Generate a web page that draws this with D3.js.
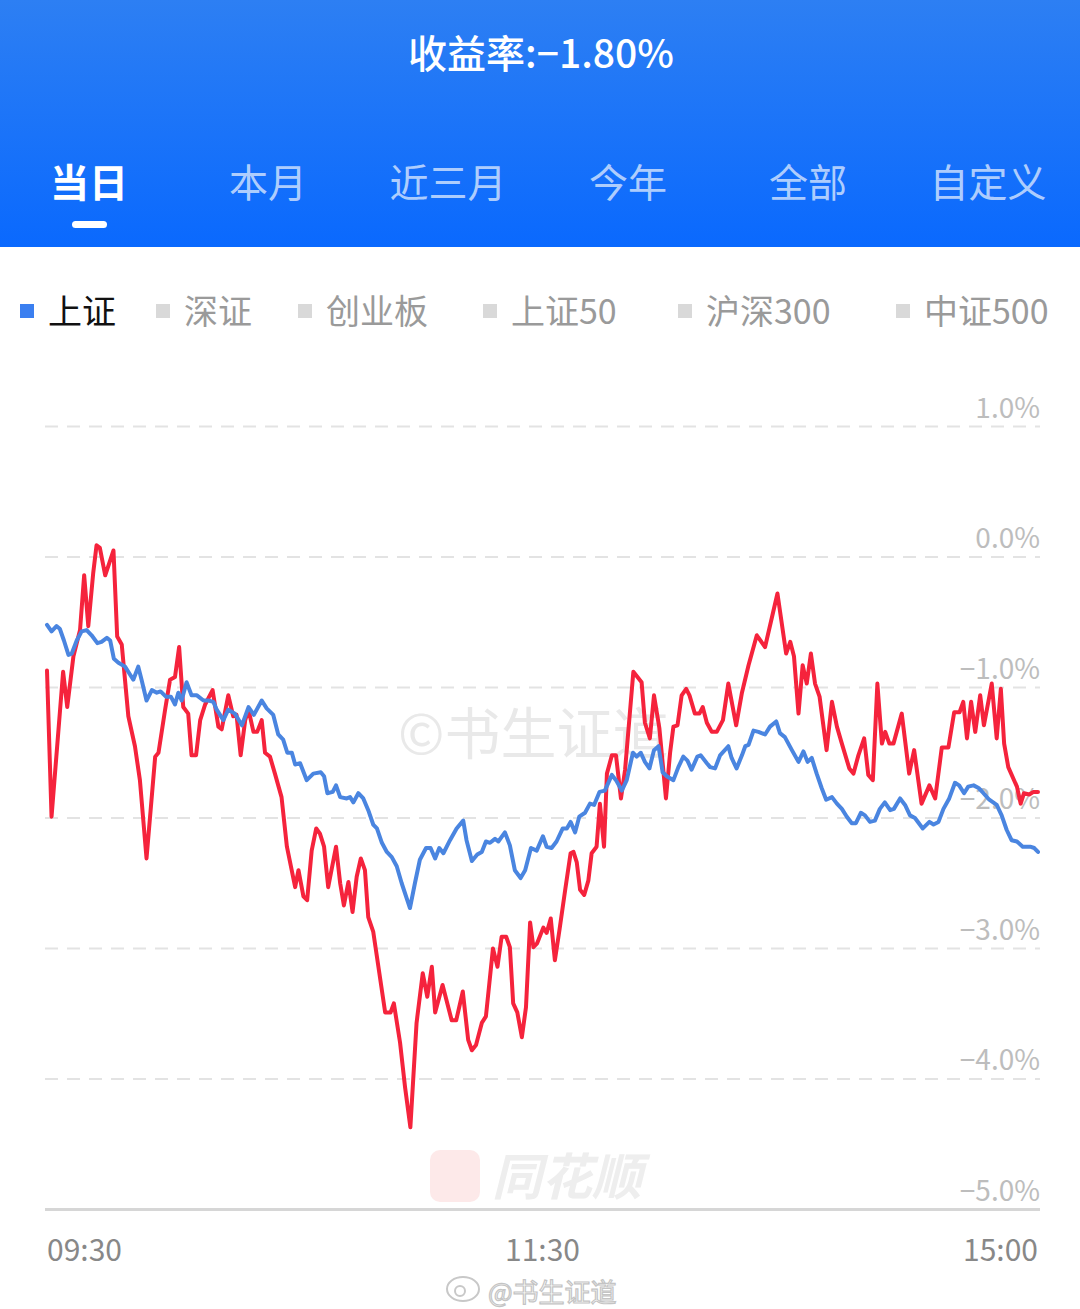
<!DOCTYPE html>
<html><head><meta charset="utf-8">
<script src="https://cdn.jsdelivr.net/npm/d3@7"></script>
<style>html,body{margin:0;padding:0;background:#fff;}svg{display:block;}</style>
</head><body>
<svg id="c" width="1080" height="1309"></svg>
<script>
// ---- data ----
const title = "收益率:−1.80%";
const tabs = ["当日","本月","近三月","今年","全部","自定义"];
const legendNames = ["上证","深证","创业板","上证50","沪深300","中证500"];
const yTicks = [1,0,-1,-2,-3,-4,-5];
const yTickLabels = ["1.0%","0.0%","−1.0%","−2.0%","−3.0%","−4.0%","−5.0%"];
const xTickMinutes = [0,120,240];
const xTickLabels = ["09:30","11:30","15:00"];

// portfolio (red): minute offset since 09:30 (trading minutes) and return %
const redMinutes = [
0,1.1,3.9,4.9,6.4,8.0,9.0,10.0,11.2,12.0,
12.8,14.1,16.1,17.0,18.1,19.7,21.3,22.5,24.1,26.2,
27.0,28.6,29.8,31.0,32.0,33.0,34.2,35.0,36.1,37.1,
38.3,40.1,41.5,42.3,43.9,45.1,45.9,46.9,48.0,48.8,
50.0,50.9,52.0,52.8,54.0,55.2,56.8,58.1,60.1,60.9,
62.1,63.0,64.1,65.2,66.1,67.1,68.1,70.0,71.0,71.9,
73.0,74.0,75.0,76.0,77.0,77.8,79.0,81.1,81.9,83.2,
84.0,85.5,86.7,88.0,89.5,91.0,92.1,93.2,94.0,95.8,
98.0,99.1,100.7,102.0,102.9,103.9,105.3,106.3,108.0,109.1,
110.1,111.2,112.1,112.9,113.9,115.0,116.0,117.0,117.8,118.7,
120.2,121.0,122.0,123.0,124.1,125.5,126.8,127.5,128.3,129.1,
130.1,131.1,131.9,133.1,133.9,134.9,135.6,136.8,137.8,139.0,
140.0,142.0,144.0,144.8,146.0,147.0,148.3,149.9,150.9,151.7,
152.7,153.7,154.8,155.6,156.9,158.0,158.8,159.8,161.0,162.2,
163.7,165.0,166.9,168.3,169.9,171.9,173.9,176.9,179.0,180.0,
180.9,182.0,183.0,184.0,185.0,186.0,187.1,188.8,190.1,191.3,
192.5,194.3,195.3,196.5,197.9,198.9,200.0,201.1,202.2,203.0,
204.0,205.0,207.0,208.8,210.0,211.8,213.7,215.1,216.7,218.3,
219.7,221.0,221.9,222.8,223.8,224.8,226.0,226.9,228.8,230.0,
231.0,231.8,232.8,234.9,235.8,236.6,237.9,238.9,240];
const redValues = [
-0.87,-1.99,-0.88,-1.15,-0.76,-0.56,-0.14,-0.53,-0.12,0.09,
0.07,-0.14,0.05,-0.61,-0.67,-1.22,-1.45,-1.71,-2.31,-1.53,
-1.50,-1.17,-0.94,-0.92,-0.69,-1.15,-1.20,-1.52,-1.52,-1.25,
-1.13,-1.02,-1.30,-1.32,-1.06,-1.22,-1.21,-1.52,-1.25,-1.17,
-1.34,-1.34,-1.25,-1.50,-1.53,-1.66,-1.84,-2.22,-2.53,-2.40,
-2.60,-2.63,-2.25,-2.08,-2.12,-2.22,-2.53,-2.22,-2.50,-2.67,
-2.49,-2.72,-2.45,-2.31,-2.40,-2.76,-2.87,-3.32,-3.49,-3.49,
-3.42,-3.72,-4.06,-4.37,-3.57,-3.19,-3.37,-3.14,-3.49,-3.28,
-3.55,-3.55,-3.33,-3.70,-3.78,-3.74,-3.57,-3.52,-3.00,-3.14,
-2.91,-2.91,-2.99,-3.42,-3.49,-3.68,-3.45,-2.80,-2.99,-2.96,
-2.84,-2.88,-2.77,-3.09,-2.86,-2.55,-2.27,-2.26,-2.34,-2.55,
-2.59,-2.48,-2.27,-2.22,-1.89,-2.22,-1.66,-1.52,-1.52,-1.85,
-1.63,-0.88,-0.96,-1.27,-1.39,-1.06,-1.31,-1.85,-1.50,-1.30,
-1.29,-1.06,-1.01,-1.06,-1.20,-1.20,-1.15,-1.27,-1.34,-1.34,
-1.25,-0.97,-1.29,-1.04,-0.83,-0.60,-0.69,-0.28,-0.74,-0.65,
-0.76,-1.20,-0.83,-0.97,-0.74,-0.97,-1.07,-1.48,-1.11,-1.30,
-1.43,-1.62,-1.66,-1.52,-1.39,-1.67,-1.71,-0.97,-1.43,-1.34,
-1.43,-1.43,-1.20,-1.66,-1.48,-1.89,-1.75,-1.85,-1.46,-1.46,
-1.19,-1.19,-1.11,-1.39,-1.11,-1.34,-1.06,-1.29,-0.97,-1.39,
-1.01,-1.43,-1.61,-1.76,-1.89,-1.81,-1.82,-1.80,-1.80];

// 上证 index (blue)
const blueMinutes = [
0,1.1,2.3,3.1,4.1,5.2,6.0,7.2,8.4,9.6,
10.8,12.2,13.2,14.5,15.3,16.2,17.3,18.9,20.1,20.9,
22.1,22.9,24.1,25.4,26.6,27.5,28.8,30.0,31.0,31.8,
32.6,33.8,35.0,36.3,37.9,39.1,40.3,41.1,42.7,43.9,
45.5,47.2,48.8,50.1,52.0,53.2,54.8,56.0,57.2,58.2,
59.3,60.1,61.3,62.9,64.5,66.3,67.1,67.9,69.2,70.0,
71.0,72.6,73.4,74.2,75.4,76.6,77.8,79.0,79.9,81.1,
82.3,83.5,84.7,85.9,87.9,89.1,90.3,91.8,92.9,94.0,
95.0,96.0,97.6,99.2,100.8,101.6,102.9,104.2,105.3,106.3,
107.3,108.5,109.3,110.9,112.1,113.3,114.7,115.8,117.2,118.6,
120.1,121.0,122.2,123.4,124.9,125.9,126.8,127.9,128.9,130.3,
131.5,132.5,133.8,135.1,136.8,137.8,139.2,140.4,141.9,142.8,
143.8,144.8,145.9,147.0,148.1,149.1,150.1,151.7,152.9,154.1,
155.1,156.1,157.5,158.3,159.8,160.6,161.8,163.0,165.0,165.8,
167.0,168.3,169.1,169.9,171.1,172.3,173.9,175.1,176.6,177.5,
178.7,180.4,182.0,183.2,184.2,185.2,186.4,187.6,188.7,190.1,
191.3,192.5,193.7,194.9,195.9,197.1,198.1,199.3,200.5,201.7,
202.9,204.2,205.1,206.6,207.8,209.0,210.2,212.1,213.7,214.7,
215.9,217.1,218.5,219.9,220.9,222.1,223.1,224.4,225.6,226.8,
228.2,230.0,231.2,232.4,233.6,234.9,236.3,238.1,239.1,240];
const blueValues = [
-0.52,-0.57,-0.53,-0.55,-0.64,-0.75,-0.74,-0.64,-0.57,-0.56,
-0.60,-0.66,-0.65,-0.62,-0.64,-0.78,-0.81,-0.84,-0.90,-0.94,
-0.84,-0.94,-1.10,-1.02,-1.04,-1.03,-1.07,-1.07,-1.13,-1.04,
-1.10,-0.96,-1.06,-1.06,-1.10,-1.10,-1.11,-1.17,-1.25,-1.17,
-1.20,-1.29,-1.15,-1.21,-1.10,-1.16,-1.21,-1.36,-1.40,-1.50,
-1.50,-1.59,-1.58,-1.71,-1.66,-1.65,-1.68,-1.81,-1.80,-1.75,
-1.84,-1.85,-1.84,-1.88,-1.81,-1.85,-1.94,-2.05,-2.08,-2.19,
-2.26,-2.30,-2.37,-2.50,-2.69,-2.50,-2.32,-2.23,-2.23,-2.31,
-2.23,-2.27,-2.17,-2.08,-2.02,-2.17,-2.33,-2.28,-2.26,-2.18,
-2.19,-2.16,-2.18,-2.11,-2.21,-2.40,-2.46,-2.40,-2.23,-2.25,
-2.14,-2.22,-2.23,-2.18,-2.08,-2.08,-2.03,-2.11,-1.99,-1.96,
-1.89,-1.90,-1.80,-1.79,-1.67,-1.71,-1.79,-1.71,-1.50,-1.53,
-1.50,-1.57,-1.62,-1.48,-1.45,-1.65,-1.68,-1.71,-1.61,-1.53,
-1.56,-1.63,-1.53,-1.52,-1.58,-1.61,-1.62,-1.52,-1.45,-1.54,
-1.62,-1.52,-1.45,-1.44,-1.33,-1.34,-1.36,-1.30,-1.26,-1.35,
-1.38,-1.48,-1.57,-1.49,-1.57,-1.54,-1.66,-1.77,-1.86,-1.84,
-1.89,-1.93,-1.99,-2.04,-2.04,-1.96,-1.98,-2.03,-2.02,-1.93,
-1.88,-1.94,-1.93,-1.85,-1.90,-1.98,-2.00,-2.08,-2.03,-2.05,
-2.03,-1.93,-1.85,-1.73,-1.75,-1.81,-1.76,-1.75,-1.77,-1.81,
-1.86,-1.90,-1.98,-2.09,-2.17,-2.18,-2.22,-2.22,-2.23,-2.26];

// ---- drawing ----
const FONT = "'Noto Sans CJK SC','Noto Sans',sans-serif";
const svg = d3.select("#c");
const defs = svg.append("defs");
const grad = defs.append("linearGradient").attr("id","hdr").attr("x1",0).attr("y1",0).attr("x2",0).attr("y2",1);
grad.append("stop").attr("offset","0%").attr("stop-color","#2d7ff3");
grad.append("stop").attr("offset","100%").attr("stop-color","#0a69fe");

// header
svg.append("rect").attr("x",0).attr("y",0).attr("width",1080).attr("height",247).attr("fill","url(#hdr)");
svg.append("text").attr("x",541).attr("y",68).attr("text-anchor","middle")
  .attr("font-family",FONT).attr("font-size",39).attr("font-weight",500).attr("fill","#fff").text(title);

const tabX = [89,268,448,628,808,988];
svg.selectAll("text.tab").data(tabs).join("text").attr("class","tab")
  .attr("x",(d,i)=>tabX[i]).attr("y",197).attr("text-anchor","middle")
  .attr("font-family",FONT).attr("font-size",39)
  .attr("font-weight",(d,i)=>i===0?700:400)
  .attr("fill",(d,i)=>i===0?"#ffffff":"rgba(255,255,255,0.68)").text(d=>d);
svg.append("rect").attr("x",72).attr("y",221).attr("width",35).attr("height",7).attr("rx",3.5).attr("fill","#fff");

// legend
const legX = [20,156,298,483,678,896];
const lg = svg.selectAll("g.leg").data(legendNames).join("g").attr("class","leg")
  .attr("transform",(d,i)=>`translate(${legX[i]},0)`);
lg.append("rect").attr("x",0).attr("y",304).attr("width",14).attr("height",14)
  .attr("fill",(d,i)=>i===0?"#3b7ff0":"#d9d9d9");
lg.append("text").attr("x",28).attr("y",324).attr("font-family",FONT).attr("font-size",34)
  .attr("fill",(d,i)=>i===0?"#111":"#9a9a9a").text(d=>d);

// scales
const x = d3.scaleLinear().domain([0,240]).range([47,1038]);
const y = d3.scaleLinear().domain([-5,1]).range([1209.5,426.5]);

// watermark behind
svg.append("text").attr("x",398).attr("y",754).attr("font-family",FONT).attr("font-size",56)
  .attr("fill","#e9e9e9").text("©书生证道");
svg.append("rect").attr("x",430).attr("y",1150).attr("width",50).attr("height",52).attr("rx",10).attr("fill","#fde9e9");
svg.append("text").attr("x",492).attr("y",1195).attr("font-family",FONT).attr("font-size",50)
  .attr("font-weight",700).attr("font-style","italic").attr("fill","#eeeeee").text("同花顺");

// grid
const gridVals = yTicks.filter(v=>v!==-5);
svg.selectAll("line.grid").data(gridVals).join("line").attr("class","grid")
  .attr("x1",45).attr("x2",1040).attr("y1",d=>y(d)).attr("y2",d=>y(d))
  .attr("stroke","#e3e3e3").attr("stroke-width",2).attr("stroke-dasharray","13,9");
svg.append("line").attr("x1",45).attr("x2",1040).attr("y1",y(-5)).attr("y2",y(-5))
  .attr("stroke","#d6d6d6").attr("stroke-width",3);

// y labels
svg.selectAll("text.yl").data(yTicks).join("text").attr("class","yl")
  .attr("x",1040).attr("y",d=>y(d)-9).attr("text-anchor","end")
  .attr("font-family",FONT).attr("font-size",28).attr("fill","#bdbdbd")
  .text((d,i)=>yTickLabels[i]);

// x labels
svg.selectAll("text.xl").data(xTickMinutes).join("text").attr("class","xl")
  .attr("x",d=>x(d)).attr("y",1261)
  .attr("text-anchor",(d,i)=>i===0?"start":(i===2?"end":"middle"))
  .attr("font-family",FONT).attr("font-size",30).attr("fill","#888")
  .text((d,i)=>xTickLabels[i]);

// lines
const line = d3.line().x(d=>x(d[0])).y(d=>y(d[1])).curve(d3.curveLinear);
const red = redMinutes.map((m,i)=>[m,redValues[i]]);
const blue = blueMinutes.map((m,i)=>[m,blueValues[i]]);
svg.append("path").datum(red).attr("d",line).attr("fill","none")
  .attr("stroke","#f5233c").attr("stroke-width",4).attr("stroke-linejoin","round").attr("stroke-linecap","round");
svg.append("path").datum(blue).attr("d",line).attr("fill","none")
  .attr("stroke","#4a85e0").attr("stroke-width",4).attr("stroke-linejoin","round").attr("stroke-linecap","round");

// weibo watermark
const wb = svg.append("g");
wb.append("ellipse").attr("cx",463).attr("cy",1289).attr("rx",16).attr("ry",12)
  .attr("fill","#fff").attr("stroke","#c8c8c8").attr("stroke-width",2);
wb.append("circle").attr("cx",460).attr("cy",1291).attr("r",5).attr("fill","none").attr("stroke","#c8c8c8").attr("stroke-width",2);
wb.append("text").attr("x",488).attr("y",1302).attr("font-family",FONT).attr("font-size",26)
  .attr("fill","#fff").attr("stroke","#c4c4c4").attr("stroke-width",1.2).text("@书生证道");
</script>
</body></html>
